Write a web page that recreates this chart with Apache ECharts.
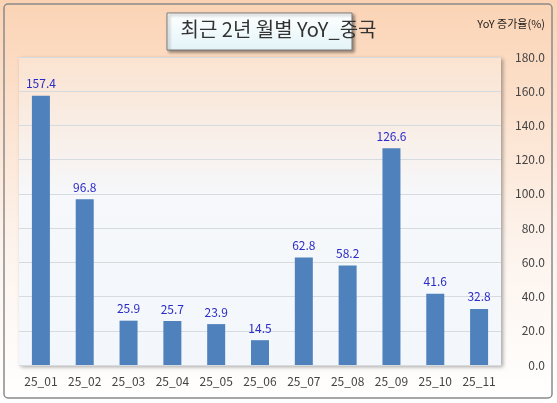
<!DOCTYPE html>
<html><head><meta charset="utf-8">
<script src="https://cdn.jsdelivr.net/npm/echarts@6/dist/echarts.min.js"></script>
<style>html,body{margin:0;padding:0;background:#fff}#c{width:557px;height:403px}</style>
</head><body><div id="c"></div>
<script>
const categories = ['25_01','25_02','25_03','25_04','25_05','25_06','25_07','25_08','25_09','25_10','25_11'];
const values = [157.4, 96.8, 25.9, 25.7, 23.9, 14.5, 62.8, 58.2, 126.6, 41.6, 32.8];
const titleText = '최근 2년 월별 YoY_중국';
const axisName = 'YoY 증가율(%)';
const font = '"Noto Sans CJK KR", "Noto Sans", sans-serif';
const chart = echarts.init(document.getElementById('c'));
chart.setOption({
  animation: false,
  backgroundColor: new echarts.graphic.LinearGradient(0,0,0,1,[{offset:0,color:'#fbd3b4'},{offset:0.6,color:'#fdf3ec'},{offset:1,color:'#ffffff'}]),
  graphic: [
    {type:'rect', shape:{x:4,y:4,width:548,height:394,r:4}, style:{fill:'none',stroke:'#8a8a8a',lineWidth:1.5}, z:-1},
    {type:'rect', shape:{x:19,y:57,width:482,height:308}, style:{fill:new echarts.graphic.LinearGradient(0,0,0,1,[{offset:0,color:'#fbe3d0'},{offset:0.45,color:'#f6f8fb'},{offset:1,color:'#f3f7fb'}]), shadowBlur:4, shadowColor:'rgba(0,0,0,0.35)', shadowOffsetX:2, shadowOffsetY:2}, z:-1},
    {type:'rect', shape:{x:167,y:13,width:185,height:37}, style:{fill:new echarts.graphic.LinearGradient(0,0,0,1,[{offset:0,color:'#ffffff'},{offset:1,color:'#e3f4f8'}]), stroke:'#7a7a7a', lineWidth:1, shadowBlur:3, shadowColor:'rgba(0,0,0,0.4)', shadowOffsetX:2, shadowOffsetY:2}, z:10},
    {type:'text', left:'center', x:260, top:19, style:{text:titleText, font:'20px '+font, fill:'#333', textAlign:'center'}, position:[259,19], z:11},
    {type:'text', right:12, top:18, style:{text:axisName, font:'11px '+font, fill:'#222'}, z:11}
  ],
  grid: {left:19, right:56, top:57, bottom:38},
  xAxis: {type:'category', data:categories, axisLine:{show:false}, axisTick:{show:false},
    axisLabel:{color:'#444', fontSize:12, fontFamily:font, margin:10}},
  yAxis: {type:'value', position:'right', min:0, max:180, interval:20,
    axisLabel:{formatter:v=>v.toFixed(1), color:'#444', fontSize:12, fontFamily:font, align:'right', margin:44},
    splitLine:{lineStyle:{color:'#d6dbe0'}}, axisLine:{show:false}, axisTick:{show:false}},
  series: [{type:'bar', data:values, barWidth:18, itemStyle:{color:'#4f81bd'},
    label:{show:true, position:'top', color:'#2a2ac8', fontSize:12, fontFamily:font, distance:6, formatter:p=>p.value.toFixed(1)}}]
});
</script></body></html>
